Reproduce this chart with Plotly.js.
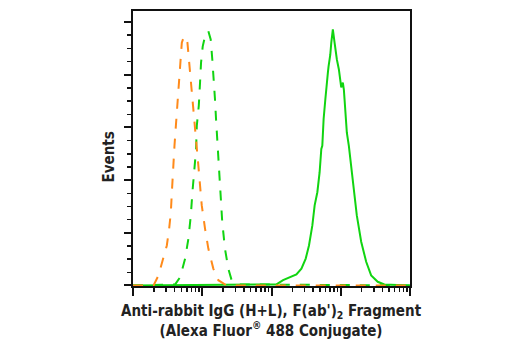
<!DOCTYPE html>
<html>
<head>
<meta charset="utf-8">
<script src="https://cdn.plot.ly/plotly-3.0.1.min.js"></script>
<style>
  html, body { margin: 0; padding: 0; background: #fff; }
  #chart { width: 520px; height: 350px; }
</style>
</head>
<body>
<div id="chart"></div>
<script>
// Fluorescence intensity (log scale) and event counts
const orangeX = [10, 19.8, 23.3, 27.0, 30.8, 33.3, 35.2, 36.4, 37.6, 38.4, 39.7, 41.6, 43.8, 46.4, 48.0, 50.7, 53.5, 57.9, 61.1, 64.0, 68.4, 72.1, 74.5, 76.9, 80.6, 87.9, 92.9, 98.4, 109.7, 122.4, 144.5, 170.6, 225, 100000];
const orangeY = [0, 0, 19, 48, 76, 108, 139, 177, 221, 253, 265, 303, 341, 385, 423, 461, 470, 473, 461, 429, 391, 360, 335, 303, 272, 227, 190, 152, 108, 70, 32, 10, 0, 0];

const greenDashX = [10, 40.6, 48.0, 56.6, 63.1, 68.4, 72.1, 76.3, 81.5, 83.4, 89.1, 92.9, 96.1, 101.6, 109.7, 122.4, 132.5, 139.7, 147.9, 152.8, 158.1, 164.9, 170.6, 180.3, 194.5, 212.8, 237.7, 265.7, 330, 100000];
const greenDashY = [0, 2, 16, 51, 89, 133, 177, 221, 259, 303, 341, 385, 423, 454, 473, 483, 467, 429, 391, 353, 316, 272, 234, 183, 120, 70, 32, 10, 2, 0];

const greenX = [10, 946, 1180, 1469, 1834, 2290, 2704, 3119, 3477, 3890, 4198, 4592, 4955, 5240, 5415, 5657, 5988, 6185, 6310, 6518, 6670, 7060, 7300, 7690, 8145, 8414, 8790, 9397, 9840, 10160, 10720, 11090, 11350, 11730, 12250, 13090, 14170, 15810, 17060, 19730, 23290, 27490, 34200, 42660, 100000];
const greenY = [0, 1, 2, 10, 16, 21, 32, 51, 76, 114, 152, 177, 215, 259, 265, 316, 353, 379, 380, 404, 416, 438, 461, 486, 461, 442, 429, 410, 391, 376, 385, 372, 353, 328, 290, 265, 227, 177, 133, 83, 45, 19, 7, 2, 0];

const xTitleLines = ["Anti-rabbit IgG (H+L), F(ab')<sub>2</sub> Fragment", "(Alexa Fluor<sup>®</sup> 488 Conjugate)"];
const yTitle = "Events";

const FONT = '"Liberation Sans Narrow", "DejaVu Sans Condensed", "Arial Narrow", sans-serif';
const ORANGE = '#ff8a1a';
const GREEN = '#11d411';

const traces = [
  { x: greenX, y: greenY, type: 'scatter', mode: 'lines',
    line: { color: GREEN, width: 2 }, hoverinfo: 'skip' },
  { x: greenDashX, y: greenDashY, type: 'scatter', mode: 'lines',
    line: { color: GREEN, width: 2, dash: '10px,10px' }, hoverinfo: 'skip' },
  { x: orangeX, y: orangeY, type: 'scatter', mode: 'lines',
    line: { color: ORANGE, width: 2, dash: '10px,10px' }, hoverinfo: 'skip' }
];

const layout = {
  width: 520, height: 350,
  margin: { l: 133, r: 110, t: 11, b: 64 },
  paper_bgcolor: '#fff', plot_bgcolor: '#fff',
  showlegend: false,
  xaxis: {
    type: 'log', range: [1, 5], dtick: 1,
    showgrid: false, zeroline: false,
    showline: true, linecolor: '#111', linewidth: 2, mirror: true,
    ticks: 'outside', ticklen: 8, tickwidth: 2, tickcolor: '#111',
    showticklabels: false,
    minor: { ticks: 'outside', ticklen: 4, tickwidth: 1.5, tickcolor: '#111', dtick: 'D1', showgrid: false }
  },
  yaxis: {
    range: [-1, 521], dtick: 100, tick0: 0,
    showgrid: false, zeroline: false,
    showline: true, linecolor: '#111', linewidth: 2, mirror: true,
    ticks: 'outside', ticklen: 7, tickwidth: 2, tickcolor: '#111',
    showticklabels: false,
    minor: { ticks: 'outside', ticklen: 4, tickwidth: 1.5, tickcolor: '#111', dtick: 25, showgrid: false }
  },
  annotations: [
    { text: xTitleLines.join('<br>'), xref: 'paper', yref: 'paper',
      x: 0.5, y: -0.05, xanchor: 'center', yanchor: 'top', showarrow: false,
      font: { family: FONT, size: 15, color: '#222', weight: 'bold' } },
    { text: yTitle, xref: 'paper', yref: 'paper', textangle: -90,
      x: -0.085, y: 0.469, xanchor: 'center', yanchor: 'middle', showarrow: false,
      font: { family: FONT, size: 15, color: '#222', weight: 'bold' } }
  ]
};

Plotly.newPlot('chart', traces, layout, { staticPlot: true, displayModeBar: false });
</script>
</body>
</html>
